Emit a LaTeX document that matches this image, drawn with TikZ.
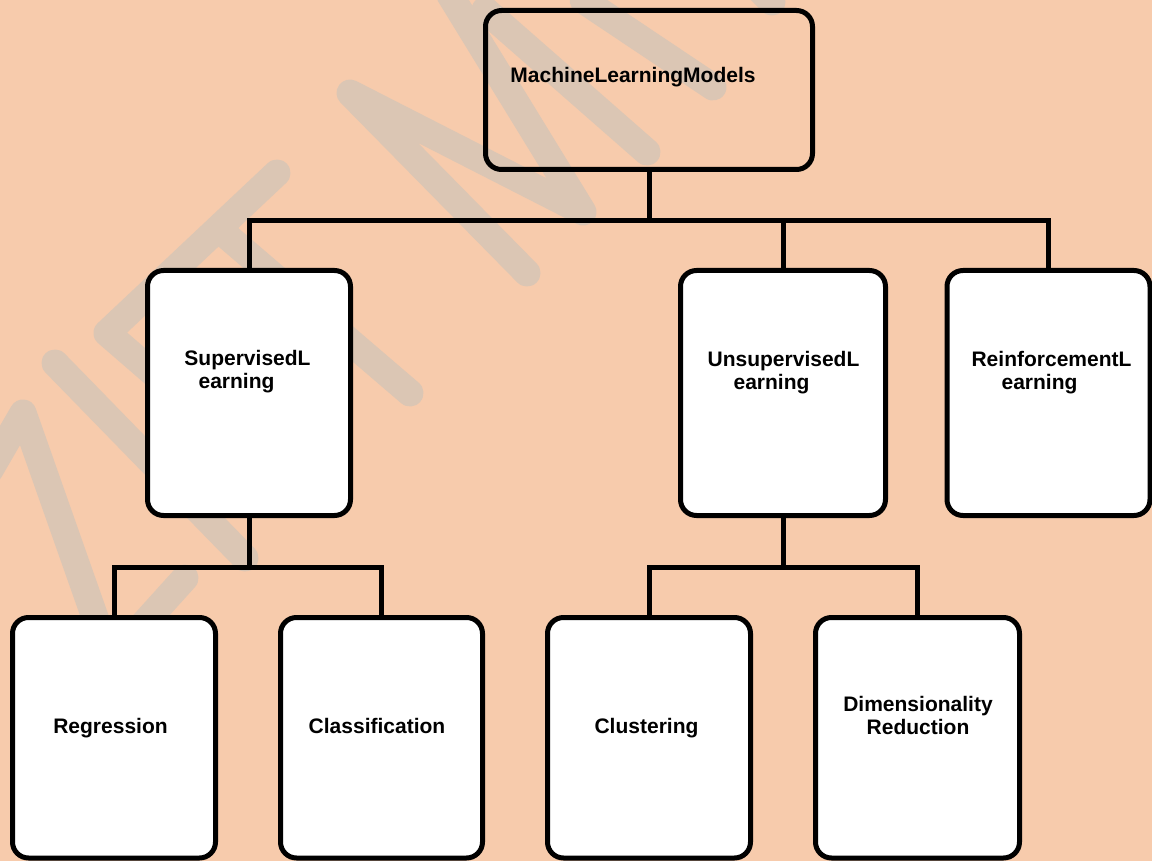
\documentclass[tikz,border=0pt]{standalone}
\usepackage{fontspec}
\setmainfont{Liberation Sans}
\definecolor{bgc}{HTML}{F7CBAC}
\definecolor{wmc}{HTML}{DBC6B4}
\begin{document}
\begin{tikzpicture}[x=1pt,y=-1pt,
  box/.style={draw=black, line width=5pt, rounded corners=16pt, fill=white,
              minimum width=203pt, inner sep=0pt},
  conn/.style={draw=black, line width=5pt, line join=miter},
  lbl/.style={font=\fontsize{21}{23}\selectfont\bfseries, inner sep=0pt,
              align=center, text=black},
  wm/.style={draw=wmc, line width=27pt, line cap=round, line join=round}]
\fill[bgc] (0,0) rectangle (1152,861);
\useasboundingbox (0,0) rectangle (1152,861);
% watermark strokes
\draw[wm] (450,-5) -- (583,212) -- (350,93) -- (527,273);
\draw[wm] (485,10) -- (647,152);
\draw[wm] (583,0) -- (713,87);
\draw[wm] (745,-25) -- (772,2);
\draw[wm] (277,173) -- (107,333) -- (300,500);
\draw[wm] (228,237) -- (410,393);
\draw[wm] (55,363) -- (245,558);
\draw[wm] (-10,470) -- (23,413) -- (110,660);
\draw[wm] (185,578) -- (120,650);
% boxes
\node[box, fill=none, minimum width=327pt, minimum height=159pt] (mlm) at (649,90) {};
\node[box, minimum height=245pt] (sup) at (249,393) {};
\node[box, minimum width=205pt, minimum height=245pt] (uns) at (783,393) {};
\node[box, minimum height=245pt] (rein) at (1048.5,393) {};
\node[box, minimum height=240.5pt] (reg) at (114,737.75) {};
\node[box, minimum width=202pt, minimum height=240.5pt] (cls) at (381.5,737.75) {};
\node[box, minimum height=240.5pt] (clu) at (649,737.75) {};
\node[box, minimum width=204pt, minimum height=240.5pt] (dim) at (917.5,737.75) {};
% labels
\node[lbl, anchor=base] (mlm-t) at (633,83) {MachineLearningModels};
\node[lbl] (sup-t) at (247.5,372) {SupervisedL\\earning\hspace*{22pt}};
\node[lbl] (uns-t) at (783.5,373) {UnsupervisedL\\earning\hspace*{24pt}};
\node[lbl] (rein-t) at (1051.5,373) {ReinforcementL\\earning\hspace*{24pt}};
\node[lbl, anchor=base] (reg-t) at (110.5,733) {Regression};
\node[lbl, anchor=base] (cls-t) at (377,733) {Classification};
\node[lbl, anchor=base] (clu-t) at (646.5,733) {Clustering};
\node[lbl] (dim-t) at (918,715) {Dimensionality\\Reduction};
% connectors
\coordinate (j1) at (649,220.5);
\coordinate (j2) at (249,567);
\coordinate (j3) at (783,567);
\draw[conn] (mlm.south) -- (j1);
\draw[conn] (sup.north) |- (j1) -| (rein.north);
\draw[conn] (uns.north) -- (uns.north |- j1);
\draw[conn] (sup.south) -- (j2);
\draw[conn] (reg.north) |- (j2) -| (cls.north);
\draw[conn] (uns.south) -- (j3);
\draw[conn] (clu.north) |- (j3) -| (dim.north);
\end{tikzpicture}
\end{document}
